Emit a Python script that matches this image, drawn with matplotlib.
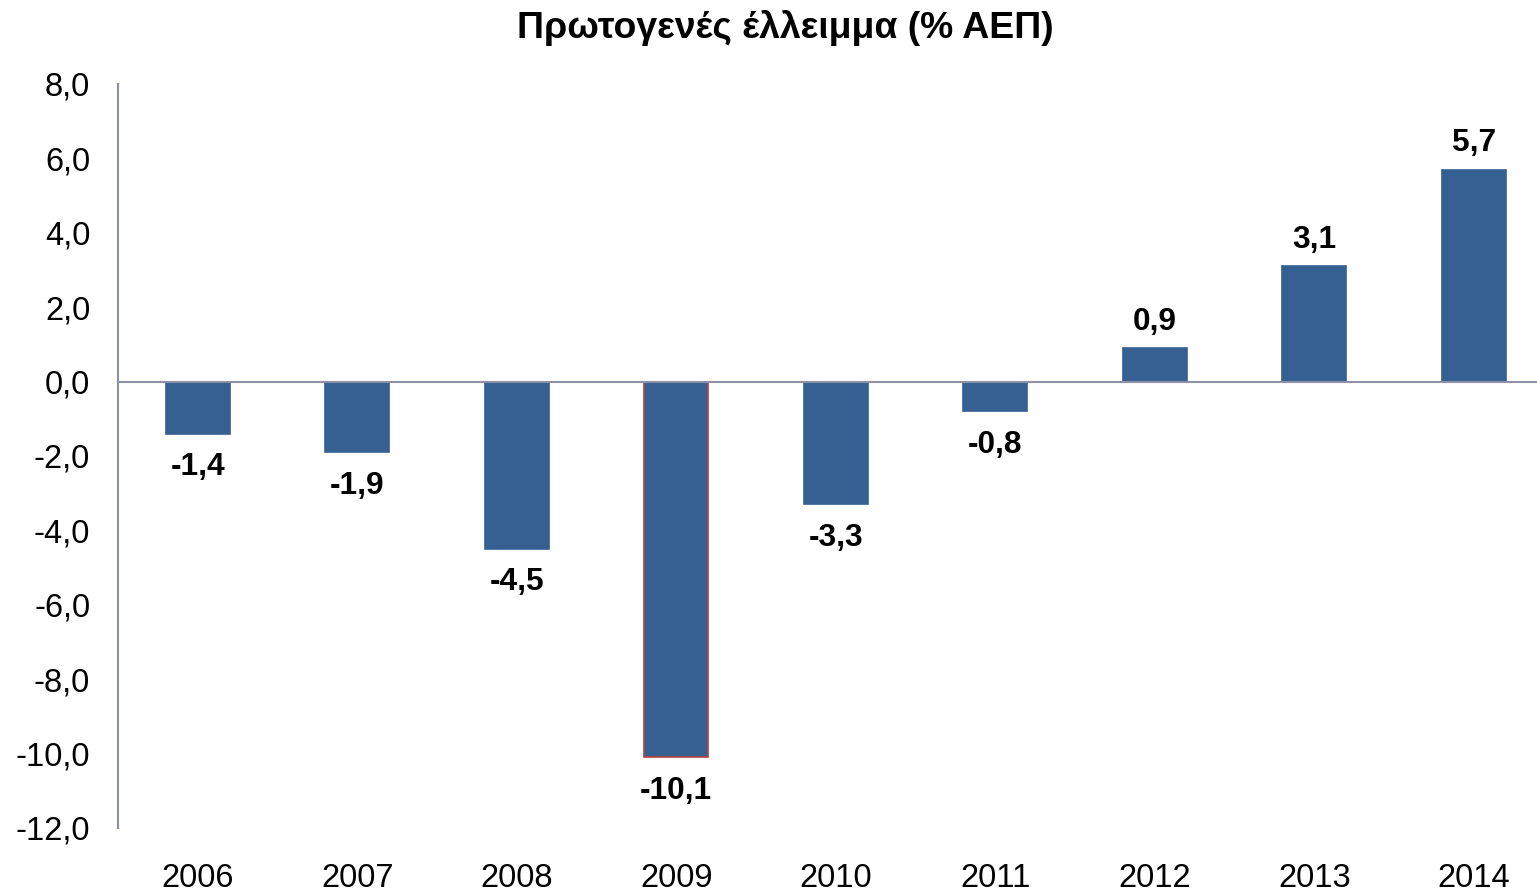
import matplotlib
matplotlib.use("Agg")
import matplotlib.pyplot as plt

years = ["2006", "2007", "2008", "2009", "2010", "2011", "2012", "2013", "2014"]
values = [-1.4, -1.9, -4.5, -10.1, -3.3, -0.8, 0.9, 3.1, 5.7]
yticks = [8, 6, 4, 2, 0, -2, -4, -6, -8, -10, -12]
title = "Πρωτογενές έλλειμμα (% ΑΕΠ)"

plt.rcParams['font.family'] = ['Liberation Sans', 'DejaVu Sans']

W, H = 1537, 892
fig = plt.figure(figsize=(W / 100, H / 100), dpi=100)
ax = fig.add_axes([118 / W, 64 / H, 1435.5 / W, (828 - 84) / H])

bar_color = "#366092"
axis_color = "#8c91a8"
edgecolors = ["#b5403d" if v == min(values) else bar_color for v in values]
x = list(range(len(years)))
ax.bar(x, values, width=0.40, color=bar_color, edgecolor=edgecolors, linewidth=1.2, zorder=2)

ax.set_xlim(-0.5, len(years) - 0.5)
ax.set_ylim(-12, 8)
ax.set_yticks(yticks)
ax.set_yticklabels([f"{t:.1f}".replace(".", ",") for t in yticks], fontsize=23.5)
ax.set_xticks(x)
ax.set_xticklabels(years, fontsize=23.5)
ax.tick_params(axis='y', length=0, pad=20)
ax.tick_params(axis='x', length=0, pad=25)

for s in ["top", "right", "bottom"]:
    ax.spines[s].set_visible(False)
ax.spines["left"].set_color(axis_color)
ax.spines["left"].set_linewidth(1.5)
ax.axhline(0, color=axis_color, linewidth=1.5, zorder=3)

for xi, v in zip(x, values):
    off = 19 if v > 0 else -24
    ax.annotate(f"{v:.1f}".replace(".", ","), (xi, v), xytext=(0, off),
                textcoords="offset points", ha="center", va="center",
                fontsize=22.8, fontweight="bold")

fig.text(785 / W, 1 - 28 / H, title, ha="center", va="center",
         fontsize=26.9, fontweight="bold")

fig.savefig("out.png", dpi=100)
